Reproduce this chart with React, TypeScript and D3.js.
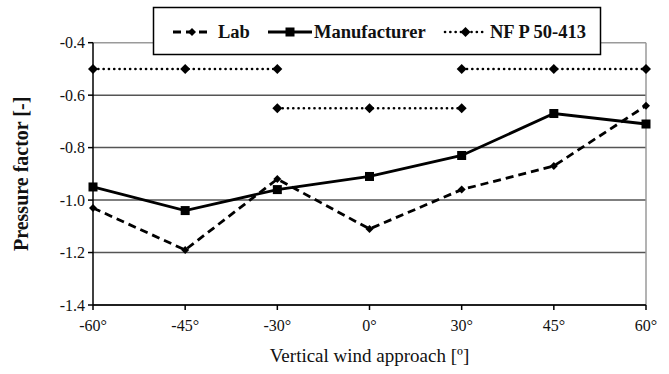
import React from "react";
import * as d3 from "d3";

const categories = ["-60°", "-45°", "-30°", "0°", "30°", "45°", "60°"];
const labValues = [-1.03, -1.19, -0.92, -1.11, -0.96, -0.87, -0.64];
const manufacturerValues = [-0.95, -1.04, -0.96, -0.91, -0.83, -0.67, -0.71];
const nfpSegment1 = [-0.5, -0.5, -0.5, null, null, null, null];
const nfpSegment2 = [null, null, -0.65, -0.65, -0.65, null, null];
const nfpSegment3 = [null, null, null, null, -0.5, -0.5, -0.5];
const yTicks = [-0.4, -0.6, -0.8, -1.0, -1.2, -1.4];
const legendLabels = ["Lab", "Manufacturer", "NF P 50-413"];

const W = 669;
const H = 374;
const margin = { left: 93, right: 23, top: 42.7, bottom: 69 };
const FONT = "Liberation Serif, Times New Roman, DejaVu Serif, serif";

export default function App() {
  const x = d3
    .scalePoint<string>()
    .domain(categories)
    .range([margin.left, W - margin.right]);
  const y = d3
    .scaleLinear()
    .domain([-1.4, -0.4])
    .range([H - margin.bottom, margin.top]);

  const line = d3
    .line<number | null>()
    .defined((d) => d !== null)
    .x((_, i) => x(categories[i]) as number)
    .y((d) => y(d as number));

  const diamond = (cx: number, cy: number, r: number) =>
    `M${cx},${cy - r}L${cx + r},${cy}L${cx},${cy + r}L${cx - r},${cy}Z`;

  const x0 = margin.left;
  const x1 = W - margin.right;
  const yTop = y(-0.4);
  const yBot = y(-1.4);

  const nfpSegs = [nfpSegment1, nfpSegment2, nfpSegment3];

  const legY = 32;
  const leg = [
    { lx0: 173, lx1: 211, tx: 218 },
    { lx0: 268, lx1: 312, tx: 314 },
    { lx0: 445, lx1: 486, tx: 490 },
  ];

  const ts = { fontFamily: FONT } as React.CSSProperties;

  return (
    <svg
      width={W}
      height={H}
      style={{ position: "absolute", left: 0, top: 0, background: "#fff", fontFamily: FONT }}
    >
      <rect x={0} y={0} width={W} height={H} fill="#fff" />
      {yTicks.map((t) => (
        <line
          key={t}
          x1={x0}
          x2={x1}
          y1={y(t)}
          y2={y(t)}
          stroke={t === -0.4 ? "#9a9a9a" : "#555"}
          strokeWidth={1.5}
        />
      ))}
      <line x1={x1} x2={x1} y1={yTop} y2={yBot} stroke="#9a9a9a" strokeWidth={1.5} />
      <line x1={x0} x2={x0} y1={yTop} y2={yBot} stroke="#000" strokeWidth={1.5} />
      {yTicks.map((t) => (
        <g key={"yt" + t}>
          <line x1={x0 - 5} x2={x0} y1={y(t)} y2={y(t)} stroke="#000" strokeWidth={1.5} />
          <text
            x={x0 - 8}
            y={y(t)}
            dy="0.35em"
            textAnchor="end"
            fontSize={16}
            fill="#111"
            style={ts}
          >
            {t.toFixed(1)}
          </text>
        </g>
      ))}
      <line x1={x0} x2={x1} y1={yBot} y2={yBot} stroke="#000" strokeWidth={1.5} />
      {categories.map((c) => (
        <g key={"xt" + c}>
          <line
            x1={x(c)}
            x2={x(c)}
            y1={yBot}
            y2={yBot + 5}
            stroke="#000"
            strokeWidth={1.5}
          />
          <text
            x={x(c)}
            y={yBot + 26}
            textAnchor="middle"
            fontSize={16}
            fill="#111"
            style={ts}
          >
            {c}
          </text>
        </g>
      ))}

      {nfpSegs.map((seg, si) => (
        <g key={"nfp" + si}>
          <path
            d={line(seg) || ""}
            fill="none"
            stroke="#000"
            strokeWidth={2.6}
            strokeDasharray="0.1 5.2"
            strokeLinecap="round"
          />
          {seg.map((v, i) =>
            v === null ? null : (
              <path key={i} d={diamond(x(categories[i]) as number, y(v), 5)} fill="#000" />
            )
          )}
        </g>
      ))}

      <path
        d={line(labValues) || ""}
        fill="none"
        stroke="#000"
        strokeWidth={2.8}
        strokeDasharray="8 5"
      />
      {labValues.map((v, i) => (
        <path key={"lab" + i} d={diamond(x(categories[i]) as number, y(v), 4)} fill="#000" />
      ))}

      <path
        d={line(manufacturerValues) || ""}
        fill="none"
        stroke="#000"
        strokeWidth={2.8}
      />
      {manufacturerValues.map((v, i) => (
        <rect
          key={"man" + i}
          x={(x(categories[i]) as number) - 4.5}
          y={y(v) - 4.5}
          width={9}
          height={9}
          fill="#000"
        />
      ))}

      <rect x={153.5} y={7.5} width={447} height={47} fill="#fff" stroke="#000" strokeWidth={1.5} />
      <line
        x1={leg[0].lx0}
        x2={leg[0].lx1}
        y1={legY}
        y2={legY}
        stroke="#000"
        strokeWidth={2.8}
        strokeDasharray="8 5"
      />
      <path d={diamond((leg[0].lx0 + leg[0].lx1) / 2, legY, 4)} fill="#000" />
      <line
        x1={leg[1].lx0}
        x2={leg[1].lx1}
        y1={legY}
        y2={legY}
        stroke="#000"
        strokeWidth={2.8}
      />
      <rect x={(leg[1].lx0 + leg[1].lx1) / 2 - 4.5} y={legY - 4.5} width={9} height={9} fill="#000" />
      <line
        x1={leg[2].lx0}
        x2={leg[2].lx1}
        y1={legY}
        y2={legY}
        stroke="#000"
        strokeWidth={2.6}
        strokeDasharray="0.1 5.2"
        strokeLinecap="round"
      />
      <path d={diamond((leg[2].lx0 + leg[2].lx1) / 2, legY, 5)} fill="#000" />
      {legendLabels.map((l, i) => (
        <text
          key={l}
          x={leg[i].tx}
          y={legY + 6}
          fontSize={18.5}
          fontWeight="bold"
          fill="#111"
          style={ts}
        >
          {l}
        </text>
      ))}

      <text
        x={(x0 + x1) / 2}
        y={362}
        textAnchor="middle"
        fontSize={19}
        fill="#111"
        style={ts}
      >
        Vertical wind approach [º]
      </text>
      <text
        transform={`translate(28, ${(yTop + yBot) / 2}) rotate(-90)`}
        textAnchor="middle"
        fontSize={20}
        fontWeight="bold"
        fill="#111"
        style={ts}
      >
        Pressure factor [-]
      </text>
    </svg>
  );
}
